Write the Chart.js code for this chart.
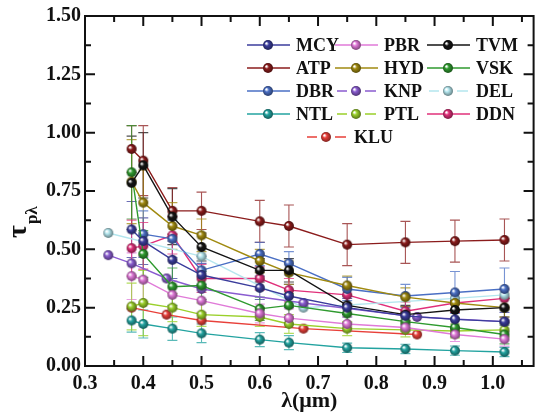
<!DOCTYPE html>
<html>
<head>
<meta charset="utf-8">
<script src="https://cdn.jsdelivr.net/npm/chart.js@4.4.0/dist/chart.umd.min.js"></script>
<style>
  html, body { margin: 0; padding: 0; background: #fff; }
  #wrap { width: 540px; height: 414px; }
</style>
</head>
<body>
<div id="wrap"><canvas id="chart" width="540" height="414"></canvas></div>
<script>
// ============================== Data ==============================
// wavelengths (um) used by most stations
const wl = [0.38, 0.40, 0.45, 0.50, 0.60, 0.65, 0.75, 0.85, 0.935, 1.02];
const wlDBR = [0.40, 0.45, 0.50, 0.60, 0.65, 0.75, 0.85, 0.935, 1.02];
const wlKNP = [0.34, 0.38, 0.44, 0.50, 0.675, 0.87, 1.02];
const wlDEL = [0.34, 0.50, 0.675, 0.935, 1.02];
const wlKLU = [0.38, 0.44, 0.50, 0.675, 0.87];

const mcy = [0.585, 0.535, 0.455, 0.39, 0.335, 0.30, 0.25, 0.215, 0.20, 0.19];
const pbr = [0.385, 0.37, 0.305, 0.28, 0.225, 0.205, 0.18, 0.165, 0.135, 0.115];
const tvm = [0.785, 0.86, 0.64, 0.51, 0.41, 0.41, 0.26, 0.22, 0.24, 0.25];
const atp = [0.93, 0.88, 0.665, 0.665, 0.62, 0.60, 0.52, 0.53, 0.535, 0.54];
const hyd = [0.79, 0.70, 0.60, 0.56, 0.45, 0.40, 0.345, 0.295, 0.27, 0.25];
const vsk = [0.83, 0.48, 0.34, 0.345, 0.245, 0.26, 0.225, 0.19, 0.165, 0.135];
const dbr = [0.565, 0.545, 0.41, 0.48, 0.44, 0.33, 0.30, 0.315, 0.33];
const knp = [0.475, 0.44, 0.375, 0.33, 0.27, 0.21, 0.19];
const del = [0.57, 0.47, 0.25, 0.29, 0.305];
const ntl = [0.195, 0.18, 0.16, 0.14, 0.113, 0.10, 0.078, 0.073, 0.066, 0.06];
const ptl = [0.255, 0.27, 0.25, 0.22, 0.21, 0.18, 0.16, 0.155, 0.15, 0.155];
const ddn = [0.505, 0.515, 0.56, 0.375, 0.375, 0.325, 0.305, 0.235, 0.27, 0.29];
const klu = [0.25, 0.22, 0.195, 0.16, 0.135];

// error bars (+/-)
const errMCY = [0.12, 0.10, 0.08, 0.05, 0.05, 0.05, 0.04, 0.04, 0.04, 0.04];
const errPBR = [0.10, 0.10, 0.06, 0.05, 0.04, 0.04, 0.03, 0.03, 0.03, 0.03];
const errTVM = [0.20, 0.14, 0.12, 0.06, 0.05, 0.05, 0.04, 0.04, 0.04, 0.04];
const errATP = [0.10, 0.15, 0.10, 0.08, 0.09, 0.09, 0.09, 0.09, 0.09, 0.09];
const errHYD = [0.18, 0.14, 0.10, 0.07, 0.05, 0.05, 0.04, 0.04, 0.04, 0.04];
const errVSK = [0.20, 0.10, 0.08, 0.06, 0.05, 0.05, 0.04, 0.04, 0.04, 0.04];
const errDBR = [0.10, 0.08, 0.06, 0.05, 0.05, 0.05, 0.05, 0.09, 0.09];
const errNTL = [0.05, 0.06, 0.05, 0.04, 0.03, 0.03, 0.02, 0.02, 0.02, 0.02];
const errPTL = [0.10, 0.14, 0.06, 0.05, 0.04, 0.04, 0.03, 0.03, 0.03, 0.03];
const errDDN = [0.12, 0.10, 0.08, 0.06, 0.05, 0.05, 0.04, 0.04, 0.04, 0.04];

const xTicks = [0.3, 0.4, 0.5, 0.6, 0.7, 0.8, 0.9, 1.0];
const yTicks = [0.00, 0.25, 0.50, 0.75, 1.00, 1.25, 1.50];

// ============================== Helpers ==============================
const FONT = "'Liberation Serif', 'DejaVu Serif', serif";

function makeBall(color, r) { // shaded sphere marker
    const c = document.createElement('canvas');
    c.width = c.height = 2 * r + 2;
    const g = c.getContext('2d');
    const cx = r + 1;
    const grad = g.createRadialGradient(cx - r * 0.35, cx - r * 0.35, 0.5, cx, cx, r);
    grad.addColorStop(0, '#ffffff');
    grad.addColorStop(0.35, color);
    grad.addColorStop(1, shade(color, 0.55));
    g.fillStyle = grad;
    g.beginPath();
    g.arc(cx, cx, r, 0, Math.PI * 2);
    g.fill();
    return c;
}

function shade(hex, f) {
    const n = parseInt(hex.slice(1), 16);
    const r = Math.round(((n >> 16) & 255) * f);
    const gg = Math.round(((n >> 8) & 255) * f);
    const b = Math.round((n & 255) * f);
    return `rgb(${r},${gg},${b})`;
}

function series(label, color, xs, ys, errs, gap) {
    return {
        label: label,
        data: xs.map((x, i) => ({ x: x, y: ys[i], e: errs ? errs[i] : 0 })),
        borderColor: color,
        backgroundColor: color,
        borderWidth: 1.4,
        pointStyle: makeBall(color, 5),
        pointRadius: 5,
        tension: 0,
        legendGap: !!gap
    };
}

// ============================== Plugin: frame, ticks, errors, legend ==============================
const decorations = {
    id: 'decorations',
    beforeDatasetsDraw(chart) {
        const ctx = chart.ctx;
        const xs = chart.scales.x, ys = chart.scales.y;
        ctx.save();
        chart.data.datasets.forEach(ds => {
            ctx.strokeStyle = ds.borderColor;
            ctx.globalAlpha = 0.75;
            ctx.lineWidth = 1.1;
            ds.data.forEach(p => {
                if (!p.e) return;
                const px = xs.getPixelForValue(p.x);
                const top = ys.getPixelForValue(p.y + p.e);
                const bot = ys.getPixelForValue(p.y - p.e);
                ctx.beginPath();
                ctx.moveTo(px, top); ctx.lineTo(px, bot);
                ctx.moveTo(px - 5, top); ctx.lineTo(px + 5, top);
                ctx.moveTo(px - 5, bot); ctx.lineTo(px + 5, bot);
                ctx.stroke();
            });
        });
        ctx.restore();
    },
    afterDraw(chart) {
        const ctx = chart.ctx;
        const a = chart.chartArea;
        const xs = chart.scales.x, ys = chart.scales.y;
        ctx.save();
        // frame
        ctx.strokeStyle = '#111';
        ctx.lineWidth = 2;
        ctx.strokeRect(a.left, a.top, a.right - a.left, a.bottom - a.top);
        // ticks (inward, all sides)
        ctx.lineWidth = 2;
        ctx.beginPath();
        for (let v = 0; v <= 1.5001; v += 0.125) {
            const py = ys.getPixelForValue(v);
            const len = Math.abs(v / 0.25 - Math.round(v / 0.25)) < 1e-6 ? 10 : 6;
            ctx.moveTo(a.left, py); ctx.lineTo(a.left + len, py);
            ctx.moveTo(a.right, py); ctx.lineTo(a.right - len, py);
        }
        for (let v = 0.3; v <= 1.0701; v += 0.05) {
            const px = xs.getPixelForValue(v);
            const major = Math.abs(v * 10 - Math.round(v * 10)) < 1e-6;
            const len = major ? 10 : 6;
            ctx.moveTo(px, a.bottom); ctx.lineTo(px, a.bottom - len);
            ctx.moveTo(px, a.top); ctx.lineTo(px, a.top + len);
        }
        ctx.stroke();

        // axis titles
        ctx.fillStyle = '#111';
        ctx.font = `bold 22px ${FONT}`;
        ctx.textAlign = 'center';
        ctx.textBaseline = 'middle';
        ctx.fillText('λ(μm)', (a.left + a.right) / 2, 401);

        ctx.save();
        ctx.translate(26, 238);
        ctx.rotate(-Math.PI / 2);
        ctx.textAlign = 'left';
        ctx.textBaseline = 'alphabetic';
        ctx.font = `bold 28px ${FONT}`;
        ctx.fillText('τ', 0, 0);
        const w = ctx.measureText('τ').width;
        ctx.font = `bold 17px ${FONT}`;
        ctx.fillText('pλ', w + 1, 11);
        ctx.restore();

        // legend
        const colX = [247, 335, 427];
        const rowY = [45, 68, 91, 114, 137];
        ctx.font = `bold 18px ${FONT}`;
        ctx.textAlign = 'left';
        ctx.textBaseline = 'middle';
        chart.data.datasets.forEach((ds, i) => {
            const row = Math.floor(i / 3);
            const x0 = row === 4 ? 305 : colX[i % 3];
            const y0 = rowY[row];
            const mid = x0 + 21;
            ctx.strokeStyle = ds.borderColor;
            ctx.lineWidth = 1.4;
            ctx.beginPath();
            if (ds.legendGap) {
                ctx.moveTo(x0 + 2, y0); ctx.lineTo(mid - 9, y0);
                ctx.moveTo(mid + 9, y0); ctx.lineTo(x0 + 41, y0);
            } else {
                ctx.moveTo(x0, y0); ctx.lineTo(x0 + 43, y0);
            }
            ctx.stroke();
            ctx.drawImage(ds.pointStyle, mid - 6, y0 - 6);
            ctx.fillStyle = '#111';
            ctx.fillText(ds.label, x0 + 49, y0 + 1);
        });
        ctx.restore();
    }
};

// ============================== Chart ==============================
const datasets = [
    series('MCY', '#3b3d9c', wl, mcy, errMCY),
    series('PBR', '#e07ad8', wl, pbr, errPBR),
    series('TVM', '#141414', wl, tvm, errTVM),
    series('ATP', '#8b1c1c', wl, atp, errATP),
    series('HYD', '#a08a10', wl, hyd, errHYD),
    series('VSK', '#2f9a2f', wl, vsk, errVSK),
    series('DBR', '#4a6fc4', wlDBR, dbr, errDBR),
    series('KNP', '#8a5cd0', wlKNP, knp, null, true),
    series('DEL', '#b4e6ee', wlDEL, del, null, true),
    series('NTL', '#23a3a0', wl, ntl, errNTL),
    series('PTL', '#9ad02a', wl, ptl, errPTL, true),
    series('DDN', '#e0307a', wl, ddn, errDDN),
    series('KLU', '#e8403a', wlKLU, klu, null, true)
];

new Chart(document.getElementById('chart').getContext('2d'), {
    type: 'line',
    data: { datasets: datasets },
    options: {
        responsive: false,
        animation: false,
        layout: { padding: { top: 16, right: 5, left: 0, bottom: 0 } },
        plugins: { legend: { display: false }, tooltip: { enabled: false } },
        scales: {
            x: {
                type: 'linear',
                min: 0.3,
                max: 1.07,
                afterBuildTicks: s => { s.ticks = xTicks.map(v => ({ value: v })); },
                afterFit: s => { s.height = 48; },
                grid: { display: false, drawTicks: false },
                border: { display: false },
                ticks: {
                    padding: 6,
                    color: '#111',
                    font: { family: FONT, size: 20, weight: 'bold' },
                    maxRotation: 0,
                    callback: v => Number(v).toFixed(1)
                }
            },
            y: {
                type: 'linear',
                min: 0,
                max: 1.5,
                afterBuildTicks: s => { s.ticks = yTicks.map(v => ({ value: v })); },
                afterFit: s => { s.width = 85; },
                grid: { display: false, drawTicks: false },
                border: { display: false },
                ticks: {
                    padding: 4,
                    color: '#111',
                    font: { family: FONT, size: 20, weight: 'bold' },
                    callback: v => Number(v).toFixed(2)
                }
            }
        }
    },
    plugins: [decorations]
});
</script>
</body>
</html>
